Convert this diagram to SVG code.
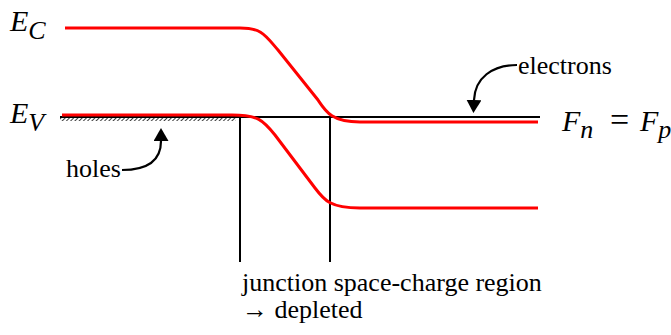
<svg xmlns="http://www.w3.org/2000/svg" width="671" height="335" viewBox="0 0 671 335">
<defs>
<pattern id="hatch" width="3" height="3" patternUnits="userSpaceOnUse" patternTransform="rotate(45)">
<rect width="3" height="3" fill="#fff"/>
<line x1="0" y1="0" x2="0" y2="3" stroke="#000" stroke-width="1.5"/>
</pattern>
<marker id="ah" viewBox="0 0 13 15" refX="0" refY="7.5" markerWidth="13" markerHeight="15" orient="auto" markerUnits="userSpaceOnUse">
<path d="M0,0 L13,7.5 L0,15 z" fill="#000"/>
</marker>
</defs>
<style>
.red{fill:none;stroke:#ff0000;stroke-width:3}
.blk{fill:none;stroke:#000;stroke-width:2}
.arr{fill:none;stroke:#000;stroke-width:2.2}
.t{font-family:"Liberation Serif",serif;fill:#000;font-size:26px}
.it{font-family:"Liberation Serif",serif;font-style:italic;fill:#000;font-size:30px}
.sub{font-size:26px}
</style>
<g id="connectors">
<rect x="60" y="117.5" width="176" height="3.5" fill="url(#hatch)"/>
<line class="blk" x1="60" y1="117" x2="540" y2="117"/>
<line class="blk" x1="240" y1="117" x2="240" y2="262"/>
<line class="blk" x1="330" y1="117" x2="330" y2="262"/>
<path class="arr" d="M122,170 C148,170 161,160 161,141" marker-end="url(#ah)"/>
<path class="arr" d="M517,65 C492,65 475,78 474,100" marker-end="url(#ah)"/>
</g>
<g id="conduction-band">
<path class="red" d="M65,28 L240,28 C262,28 265,35 278,50 L318,100 C326,112 332,122 360,122 L538,122"/>
</g>
<g id="valence-band">
<path class="red" d="M62,115 L232,115 C258,115 263,120 275,135 L315,188 C324,200 330,208 360,208 L538,208"/>
</g>
<g id="labels">
<text class="it" x="10" y="31">E<tspan class="sub" dy="8">C</tspan></text>
<text class="it" x="10" y="123">E<tspan class="sub" dy="8">V</tspan></text>
<text class="t" x="66" y="177">holes</text>
<text class="t" x="518" y="74">electrons</text>
<text class="it" x="562" y="131">F<tspan class="sub" dy="7">n</tspan><tspan x="610" dy="-7" font-style="normal" font-size="34">=</tspan><tspan x="640">F</tspan><tspan class="sub" dy="7">p</tspan></text>
<text class="t" x="242" y="291">junction space-charge region</text>
<text class="t" x="242" y="318">→ depleted</text>
</g>
</svg>
